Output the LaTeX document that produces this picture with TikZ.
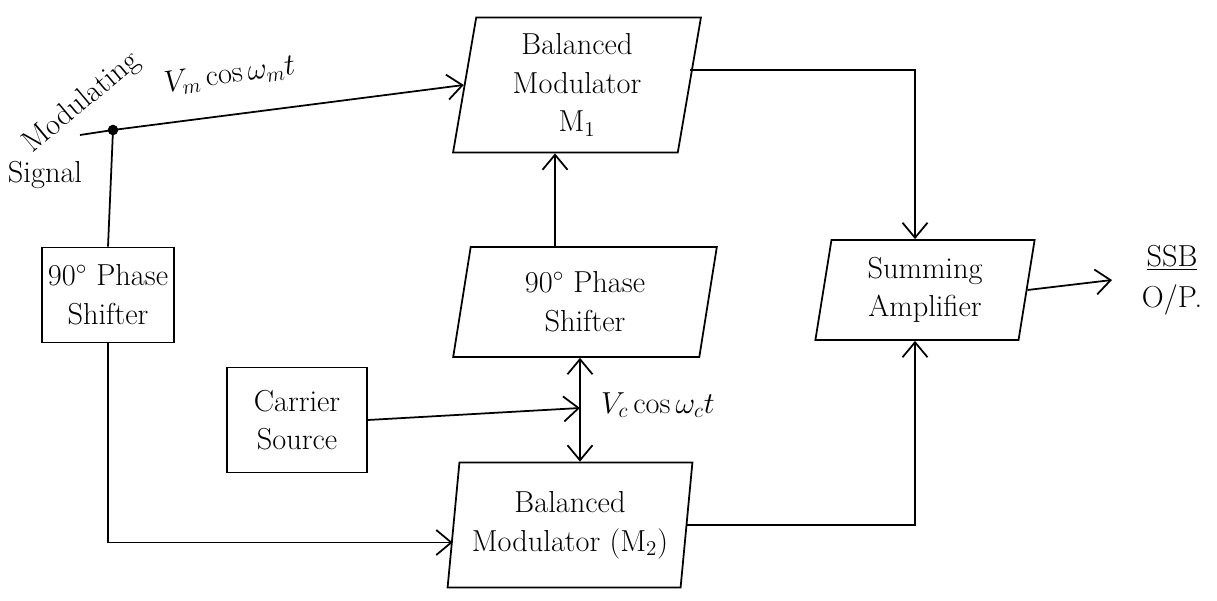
\documentclass[tikz,border=0pt]{standalone}
\usepackage{tikz}
\usetikzlibrary{shapes.geometric, arrows.meta}

\begin{document}
\begin{tikzpicture}[
			box/.style={
				rectangle,
				draw,
				line width=1pt,
				align=center,
				font=\LARGE
			},
			slantbox/.style={
				trapezium,
				trapezium left angle=82,
				trapezium right angle=98,
				trapezium stretches=true,
				draw,
				line width=1pt,
				align=center,
				font=\LARGE
			},
			lbl/.style={font=\LARGE},
			wire/.style={line width=1pt},
			arrow/.style={-{Straight Barb[length=3mm,width=5mm]}, line width=1pt}
			]
			
			\useasboundingbox (0,0) rectangle (24.34,12);
			
			\node (m1) [slantbox, minimum width=5cm, minimum height=2.7cm] at (11.54,10.3) {Balanced\\Modulator\\M$_1$};
			\node (ps2) [slantbox, minimum width=5.3cm, minimum height=2.2cm] at (11.7,5.96) {90$^\circ$ Phase\\Shifter};
			\node (m2) [slantbox, minimum width=4.9cm, minimum height=2.5cm] at (11.4,1.5) {Balanced\\Modulator (M$_2$)};
			\node (cs) [box, minimum width=2.8cm, minimum height=2.1cm] at (5.94,3.6) {Carrier\\Source};
			\node (ps1) [box, minimum width=2.5cm, minimum height=1.9cm] at (2.16,6.1) {90$^\circ$ Phase\\Shifter};
			\node (sum) [slantbox, minimum width=4.4cm, minimum height=2cm] at (18.5,6.2) {Summing\\Amplifier};
			
			\coordinate (src) at (1.6,9.3);
			\coordinate (tap) at (2.26,9.4);
			\coordinate (jn) at (11.6,3.84);
			\coordinate (out) at (22.24,6.4);
			
			\node (modlbl) [lbl, rotate=40] at (1.64,9.94) {Modulating};
			\node (siglbl) [lbl] at (0.9,8.5) {Signal};
			\node (vmlbl) [lbl, rotate=8] at (4.6,10.5) {$V_m\cos\omega_m t$};
			\node (vclbl) [lbl, anchor=west] at (11.9,3.9) {$V_c\cos\omega_c t$};
			\node (ssblbl) [lbl] at (23.44,6.84) {\underline{SSB}};
			\node (oplbl) [lbl] at (23.44,6.0) {O/P.};
			
			\draw [wire] (src) -- (tap);
			\draw [arrow] (tap) -- (m1.west);
			\draw [wire] (tap) -- (ps1.north);
			\fill (tap) circle (3pt);
			\draw [arrow] (ps1.south) |- ([yshift=-0.35cm]m2.west);
			
			\draw [arrow] ([xshift=-0.6cm]ps2.north) -- ([xshift=-0.6cm]ps2.north |- m1.south);
			\draw [arrow] (cs.east) -- (jn);
			\draw [arrow] (jn) -- (jn |- ps2.south);
			\draw [arrow] (jn) -- (jn |- m2.north);
			
			\draw [arrow] ([yshift=0.3cm]m1.east) -| ([xshift=-0.2cm]sum.north);
			\draw [arrow] (m2.east) -| ([xshift=-0.2cm]sum.south);
			\draw [arrow] (sum.east) -- (out);
			
		\end{tikzpicture}
\end{document}
